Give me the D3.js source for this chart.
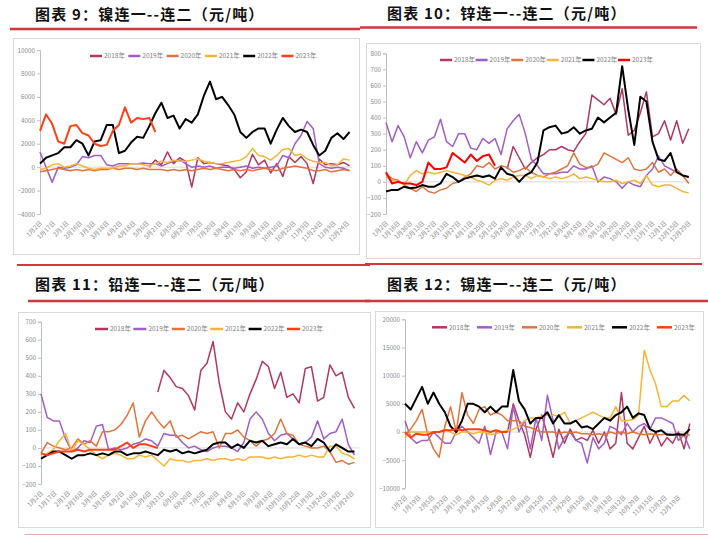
<!DOCTYPE html>
<html><head><meta charset="utf-8">
<script src="https://cdn.jsdelivr.net/npm/d3@7"></script>
<style>body{margin:0;background:#fff}svg{display:block}</style>
</head><body>
<svg id="c" width="708" height="535"></svg>
<script>
// ---------- DATA ----------
const years = ["2018年","2019年","2020年","2021年","2022年","2023年"];
const step = 5; // trading-day slots between readings

// 图表9 镍
const niLabels = ["1月2日","1月17日","2月1日","2月16日","3月3日","3月18日","4月2日","4月18日","5月6日","5月21日","6月5日","6月20日","7月5日","7月20日","8月4日","8月19日","9月3日","9月18日","10月10日","10月25日","11月9日","11月24日","12月9日","12月24日"];
const niStarts = [90,0,0,0,0,0];
const ni2018 = [0,600,200,1300,300,800,500,-1700,800,300,400,300,200,100,-200,-900,-400,1100,200,600,-500,300,-800,900,400,900,300,-1400,700,200,300,200,400,100];
const ni2019 = [1300,0,-1300,0,-100,0,200,900,800,1000,1000,200,100,300,300,300,300,350,300,300,100,300,500,600,300,0,100,0,100,-100,0,0,-100,0,100,-100,0,-100,0,100,1000,800,2000,2700,3900,3300,300,0,-100,0,-100,-300];
const ni2020 = [-400,-300,-200,-100,-200,-300,-200,-300,-200,-300,-200,-200,-100,-200,-100,-100,-200,-100,-200,-200,-200,-300,-200,-300,-200,-300,-200,-100,-200,-100,-200,-300,-200,-300,-200,-300,-200,-100,-200,-300,-100,0,100,0,-100,-300,-300,-200,-400,-300,-200,-300];
const ni2021 = [-200,-100,200,300,0,100,300,100,-100,-200,-100,-100,-100,100,100,300,300,200,100,300,500,400,600,500,500,600,700,500,400,300,300,400,500,600,900,1600,1000,900,600,1000,1500,1600,1000,1100,700,500,400,400,100,200,700,600];
const ni2022 = [300,800,1000,1200,1700,1700,2300,2000,1000,2200,2300,3600,3600,1200,1400,2100,2600,2500,3500,4600,5500,4200,4400,3300,4100,3800,4500,6100,7300,5800,6000,5300,4500,3000,2500,3000,3300,3300,2000,3200,4200,3500,3000,3200,3000,1900,1000,1400,2500,2900,2400,3000];
const ni2023 = [3100,4500,3700,2200,2000,3500,3600,2900,2700,2000,1800,1900,3100,3600,5100,3800,4200,4100,4200,3000];

// 图表10 锌
const znLabels = ["1月2日","1月16日","1月30日","2月13日","2月27日","3月13日","3月27日","4月11日","4月25日","5月12日","5月26日","6月9日","6月23日","7月7日","7月21日","8月4日","8月18日","9月1日","9月15日","9月29日","10月20日","11月3日","11月17日","12月1日","12月15日","12月29日"];
const znStarts = [100,0,0,0,0,0];
const zn2018 = [80,220,150,80,120,150,170,200,200,220,200,190,250,300,540,510,480,520,420,580,290,320,430,560,280,300,380,260,380,240,330];
const zn2019 = [370,250,350,280,150,250,180,260,280,390,250,220,300,300,210,200,270,240,270,170,330,380,420,300,140,100,50,50,50,60,60,100,80,80,100,0,30,20,0,-40,0,-20,-30,40,80,160,100,80,60,40,30];
const zn2020 = [50,20,10,-20,-40,-60,-30,-60,-70,-50,-40,-10,0,30,50,100,90,120,80,100,90,60,70,90,60,40,30,50,60,80,100,180,110,90,90,110,180,160,140,120,150,80,70,80,120,60,80,40,80,40,-10];
const zn2021 = [30,10,0,-20,40,70,50,60,50,60,70,60,50,40,30,10,0,-20,10,20,10,30,40,40,20,40,30,20,30,20,30,50,20,30,20,10,0,0,10,-10,0,10,-10,40,-20,-30,-20,-20,-40,-60,-70];
const zn2022 = [-60,-50,-50,-30,-40,-35,-20,-30,-30,-10,50,30,0,20,30,40,30,40,20,90,50,40,0,40,60,120,320,340,350,300,310,340,300,320,330,400,370,400,430,720,450,230,530,500,250,140,130,180,60,40,30];
const zn2023 = [60,-10,0,-10,-10,-20,0,120,80,80,90,180,150,120,170,130,160,170,100];

// 图表11 铅
const pbLabels = ["1月2日","1月17日","2月1日","2月16日","3月9日","3月18日","4月2日","4月18日","5月6日","5月21日","6月5日","6月20日","7月5日","7月20日","8月4日","8月19日","9月3日","9月18日","10月10日","10月25日","11月9日","11月24日","12月9日","12月24日"];
const pbStarts = [95,0,0,0,0,0];
const pb2018 = [310,430,390,340,330,290,210,430,470,590,360,200,160,250,200,300,380,480,450,330,420,280,300,250,440,450,260,280,460,400,420,280,220];
const pb2019 = [300,170,150,150,50,-20,0,40,30,120,130,-10,0,-10,0,20,30,50,40,10,80,70,70,30,0,10,-10,-20,0,10,10,0,-20,30,160,200,160,80,40,70,80,50,20,30,60,150,50,80,90,160,20,-40];
const pb2020 = [-30,30,10,0,-10,0,50,20,40,10,90,90,100,130,180,250,60,150,200,150,110,150,60,70,50,70,90,80,90,0,80,80,100,60,40,10,40,50,80,160,80,70,20,10,0,0,10,-20,-80,-70,-90,-80];
const pb2021 = [-60,-30,-10,40,80,-20,40,20,-10,-40,-60,-40,-30,-40,-60,-60,-40,-50,-40,-70,-100,-60,-70,-70,-80,-70,-70,-60,-70,-60,-60,-70,-60,-70,-50,-50,-50,-60,-50,-60,-50,-50,-40,-50,-40,-50,-50,10,10,-30,-40,-60];
const pb2022 = [-60,-40,-20,-20,-40,-60,-40,-40,-30,-40,-30,-40,-20,-20,-40,-30,-30,-20,-30,-40,-10,-20,-10,-30,-20,-30,-20,-10,20,30,30,0,20,0,40,30,40,10,20,30,20,50,20,30,10,50,30,-20,20,0,-20,-20];
const pb2023 = [-30,-40,-30,-20,-20,-20,-10,-20,-10,-10,-10,-10,-10,10,30,0,20,20,10,0];

// 图表12 锡
const snLabels = ["1月2日","1月19日","2月5日","2月23日","3月11日","3月28日","4月15日","5月5日","5月22日","6月8日","6月25日","7月12日","7月29日","8月15日","9月1日","9月18日","10月12日","10月29日","11月15日","12月2日","12月19日"];
const snStarts = [90,0,0,0,0,0];
const sn2018 = [0,5000,2000,-500,-4500,500,3000,-500,-4500,500,-2000,500,-1500,-1000,-1500,300,-2000,0,-3000,-2000,7000,-2000,-3000,-1000,1000,-2000,0,-2500,-1000,-2000,0,-3000,1500];
const sn2019 = [2000,-1000,-2000,-1500,-1500,0,-1000,-2000,-2000,0,1000,0,-1000,-2000,1000,-4000,0,0,-3000,4500,0,2000,-3000,2500,-1500,6500,2000,-3000,-1000,0,-1500,-2000,-5500,-1000,-3000,-2000,1000,500,-500,1500,0,1000,1500,500,2500,2500,2000,1500,-1500,-500,-3000];
const sn2020 = [-500,500,2000,4000,-500,-3000,-4500,1000,4500,0,7000,3000,1500,4000,4500,3000,3500,3000,2000,2000,2000,1000,800,300,0,0,0,-300,0,-200,0,-300,-300,-500,-300,-500,0,-300,0,-300,0,-300,-500,-300,-500,-500,-300,-500,-500,-700,-500];
const sn2021 = [-1000,0,0,0,0,0,0,500,0,-500,0,0,-300,0,0,-500,-300,0,300,500,1000,2000,2500,2500,2800,3000,3000,2800,3500,1500,2000,2500,3000,3500,3000,2500,2500,4500,2000,2000,2200,3000,14500,11000,8500,4500,4500,5500,5500,6500,5500];
const sn2022 = [5000,4000,6000,8000,5000,7000,5000,3500,1000,0,2000,5000,5000,4500,3500,4500,3500,4500,4500,11000,5500,4000,1500,2500,2500,3500,1500,3000,1500,1500,2000,800,1000,500,1500,2500,2000,3000,3500,4500,2500,3300,3000,500,0,300,-500,-500,-400,-500,500];
const sn2023 = [0,-1000,-300,-500,-500,0,0,300,300,500,300,500,500,500,300,0,300,0,0];

// ---------- LAYOUT / STYLE ----------
const baseColors = ["#B2385F","#A35DC7","#E2733A","#F8B435","#000000","#FF3F14"];
const FONT = "'Noto Sans CJK SC','Noto Sans',sans-serif";
const charts = [
  {title:"图表 9：镍连一--连二（元/吨）", tx:35, ty:20, panel:[13,38,359,254], xr:[40,352], N:257, yr:[214,50], yd:[-4000,10000], yt:d3.range(-4000,10001,2000),
   labels:niLabels, every:11, starts:niStarts, series:[ni2018,ni2019,ni2020,ni2021,ni2022,ni2023], lx:90, ly:56, lgap:38.3, lline:12, c2023:"#FF3F14"},
  {title:"图表 10：锌连一--连二（元/吨）", tx:387, ty:19, panel:[366,43,700,258], xr:[386,690], N:251, yr:[214,53.3], yd:[-200,800], yt:d3.range(-200,801,100),
   labels:znLabels, every:10, starts:znStarts, series:[zn2018,zn2019,zn2020,zn2021,zn2022,zn2023], lx:440, ly:60, lgap:35.6, lline:12, c2023:"#FF0000"},
  {title:"图表 11：铅连一--连二（元/吨）", tx:35, ty:290, panel:[18,312,370,527], xr:[41,359.4], N:259, yr:[484,321.7], yd:[-200,700], yt:d3.range(-200,701,100),
   labels:pbLabels, every:11, starts:pbStarts, series:[pb2018,pb2019,pb2020,pb2021,pb2022,pb2023], lx:95, ly:329, lgap:38.4, lline:13, c2023:"#FF3F14"},
  {title:"图表 12：锡连一--连二（元/吨）", tx:387, ty:290, panel:[375,311,703,527], xr:[405,689.8], N:250, yr:[488.3,319.3], yd:[-10000,20000], yt:d3.range(-10000,20001,5000),
   labels:snLabels, every:12, starts:snStarts, series:[sn2018,sn2019,sn2020,sn2021,sn2022,sn2023], lx:432, ly:327.3, lgap:45, lline:15, c2023:"#FF3F14"}
];
const redLines = [[10,29,360,29,2.5],[360,27.5,697,27.5,2.5],[17,265,370,265,2],[28,301,370,301,2.5],[365,264,702,264,2],[365,301,708,301,2.5]];

const svg = d3.select("#c");
svg.append("rect").attr("width",708).attr("height",535).attr("fill","#fff");

redLines.forEach(l=>svg.append("line").attr("x1",l[0]).attr("y1",l[1]).attr("x2",l[2]).attr("y2",l[3])
  .attr("stroke","#D2373D").attr("stroke-width",l[4]));
svg.append("line").attr("x1",25).attr("x2",708).attr("y1",534.5).attr("y2",534.5).attr("stroke","#EDA5A7").attr("stroke-width",1);

charts.forEach(c=>{
  const g = svg.append("g");
  g.append("text").attr("x",c.tx).attr("y",c.ty).text(c.title)
    .attr("font-family",FONT).attr("font-weight",700).attr("font-size",15).attr("fill","#111")
    .attr("letter-spacing",1.2);
  g.append("rect").attr("x",c.panel[0]+0.5).attr("y",c.panel[1]+0.5)
    .attr("width",c.panel[2]-c.panel[0]).attr("height",c.panel[3]-c.panel[1])
    .attr("fill","#fff").attr("stroke","#D9D9D9");
  const x = d3.scaleLinear().domain([0,c.N]).range(c.xr);
  const y = d3.scaleLinear().domain(c.yd).range(c.yr);
  const ax = g.append("g").attr("transform",`translate(${c.xr[0]},0)`)
    .call(d3.axisLeft(y).tickValues(c.yt).tickSize(3).tickPadding(2).tickFormat(d3.format("d")));
  ax.attr("font-family",FONT).attr("font-size",6.3);
  ax.select(".domain").attr("stroke","#BFBFBF");
  ax.selectAll(".tick line").attr("stroke","#BFBFBF");
  ax.selectAll(".tick text").attr("fill","#8A8A8A");
  g.append("line").attr("x1",c.xr[0]).attr("x2",c.xr[1]).attr("y1",y(0)).attr("y2",y(0))
    .attr("stroke","#D9D9D9").attr("stroke-width",1);
  c.labels.forEach((t,i)=>{
    g.append("text").attr("transform",`translate(${x(i*c.every)+1},${c.yr[0]+8}) rotate(-45)`)
      .attr("text-anchor","end").attr("dy","0.35em").text(t)
      .attr("font-family",FONT).attr("font-size",6.2).attr("fill","#8A8A8A");
  });
  const line = d3.line().x(d=>x(d[0])).y(d=>y(d[1]));
  const cols = baseColors.slice(0,5).concat([c.c2023]);
  c.series.forEach((vals,k)=>{
    const pts = vals.map((v,i)=>[c.starts[k]+i*step, v]);
    g.append("path").datum(pts).attr("d",line).attr("fill","none")
      .attr("stroke",cols[k]).attr("stroke-width",k>=4?2:1.5).attr("stroke-linejoin","round");
  });
  years.forEach((yname,k)=>{
    const lx = c.lx + k*c.lgap;
    g.append("line").attr("x1",lx).attr("x2",lx+c.lline).attr("y1",c.ly).attr("y2",c.ly)
      .attr("stroke",cols[k]).attr("stroke-width",2.5);
    g.append("text").attr("x",lx+c.lline+2).attr("y",c.ly).attr("dy","0.35em").text(yname)
      .attr("font-family",FONT).attr("font-size",6.5).attr("fill","#7F7F7F");
  });
});
</script>
</body></html>
